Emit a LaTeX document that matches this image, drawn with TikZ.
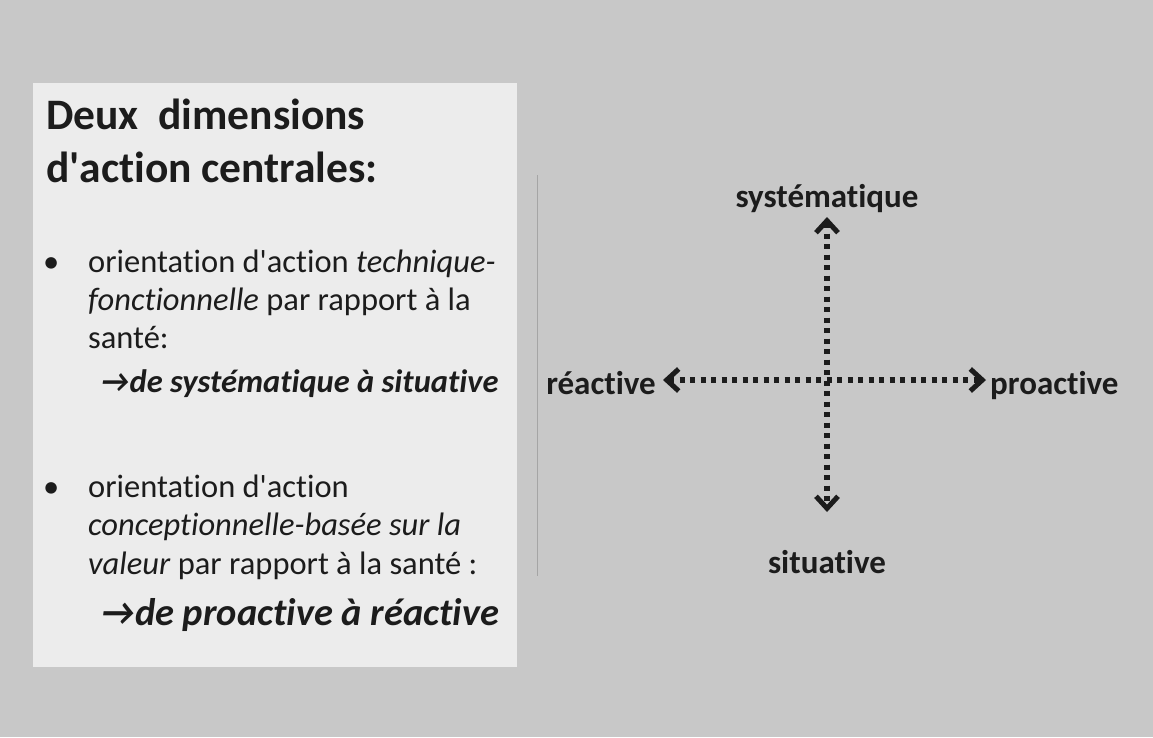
\documentclass[tikz,border=0pt]{standalone}
\usepackage{fontspec}
\setmainfont{Carlito}[Ligatures={TeX,NoCommon}]
\usetikzlibrary{arrows.meta}
\definecolor{bgc}{RGB}{200,200,200}
\definecolor{boxc}{RGB}{236,236,236}
\definecolor{ink}{RGB}{28,28,28}
\definecolor{sepc}{RGB}{165,165,165}
\newcommand{\apo}{\textquotesingle}
\begin{document}
\begin{tikzpicture}[x=1pt,y=-1pt,
  txt/.style={anchor=base west, inner sep=0pt, text=ink, font=\fontsize{32.5}{38}\selectfont},
  ttl/.style={anchor=base west, inner sep=0pt, text=ink, font=\fontsize{43.5}{50}\selectfont\bfseries},
  axl/.style={inner sep=0pt, text=ink, font=\fontsize{33}{38}\selectfont\bfseries},
  barb/.tip={Straight Barb[length=12pt,width=22pt,line width=5pt]},
  dotarrow/.style={draw=ink, line width=5.5pt, dash pattern=on 5pt off 5.5pt, barb-barb},
]
% background and margins
\fill[bgc] (0,0) rectangle (1153,737);
\useasboundingbox (0,0) rectangle (1153,737);
\fill[boxc] (33,83) rectangle (517,667);
% thin separator
\draw[sepc, line width=0.8pt] (537,175) -- (537,576);

% title
\node[ttl] (t1) at (46,129) {Deux\ \ dimensions};
\node[ttl] (t2) at (46,182) {d\apo action centrales:};

% bullet 1
\node[txt] (b1) at (43,272) {•};
\node[txt] (l1) at (88,272) {orientation d\apo action \textit{technique-}};
\node[txt] (l2) at (88,310) {\textit{fonctionnelle} par rapport à la};
\node[txt] (l3) at (88,348) {santé:};
\node[txt] (l4) at (100,392) {\textbf{\textit{→de systématique à situative}}};

% bullet 2
\node[txt] (b2) at (43,497) {•};
\node[txt] (m1) at (88,497) {orientation d\apo action};
\node[txt] (m2) at (88,535) {\textit{conceptionnelle-basée sur la}};
\node[txt] (m3) at (88,574) {\textit{valeur} par rapport à la santé :};
\node[txt, font=\fontsize{38.5}{44}\selectfont] (m4) at (100,625) {\textbf{\textit{→de proactive à réactive}}};

% axes
\coordinate (c) at (827,380);
\coordinate (tn) at (827,217);
\coordinate (ts) at (827,512);
\coordinate (tw) at (663,380);
\coordinate (te) at (986,380);
\draw[dotarrow] (tw) -- (te);
\draw[dotarrow] (tn) -- (ts);

\node[axl, anchor=base] (sys) at (827,207) {systématique};
\node[axl, anchor=base] (sit) at (827,573) {situative};
\node[axl, anchor=base east] (rea) at (656,394) {réactive};
\node[axl, anchor=base west] (pro) at (990,394) {proactive};
\end{tikzpicture}
\end{document}
